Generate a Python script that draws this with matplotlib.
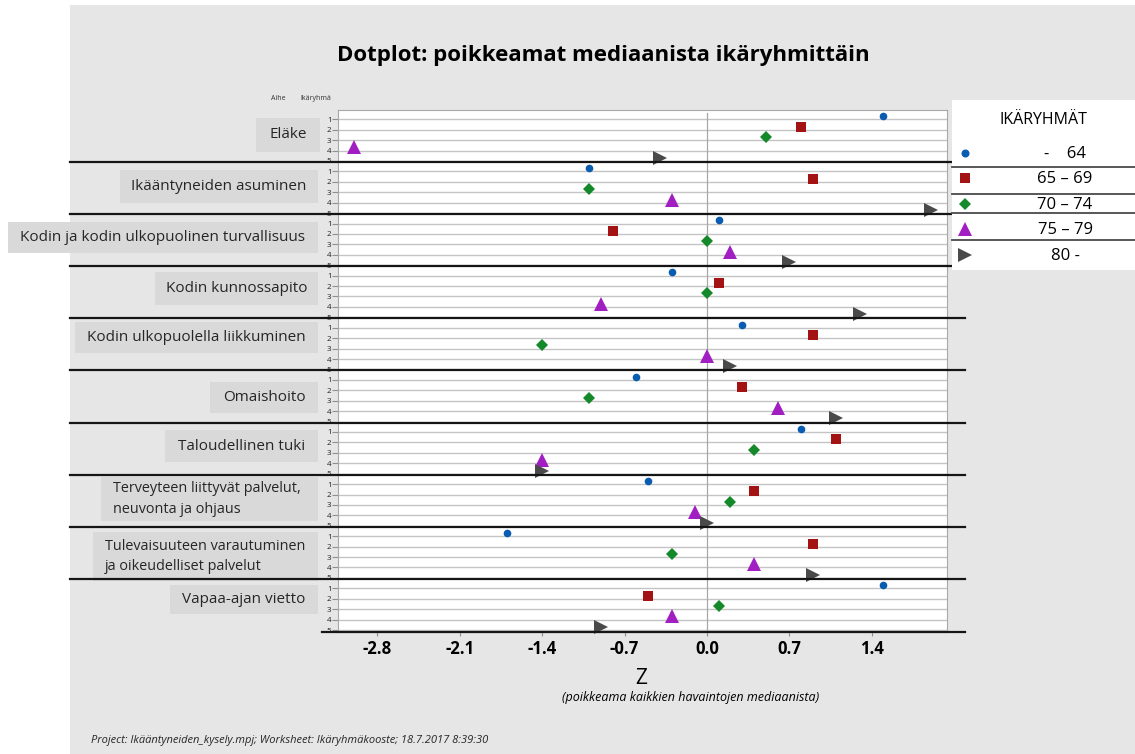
import matplotlib
matplotlib.use("Agg")
import matplotlib.pyplot as plt
import numpy as np
from matplotlib.patches import Rectangle
from matplotlib.lines import Line2D
from matplotlib.transforms import blended_transform_factory

plt.rcParams['font.family'] = ['Open Sans', 'DejaVu Sans']

# aiheet (ylhäältä alas)
aiheet = ["Eläke", "Ikääntyneiden asuminen", "Kodin ja kodin ulkopuolinen turvallisuus",
          "Kodin kunnossapito", "Kodin ulkopuolella liikkuminen", "Omaishoito",
          "Taloudellinen tuki", "Terveyteen liittyvät palvelut,\nneuvonta ja ohjaus",
          "Tulevaisuuteen varautuminen\nja oikeudelliset palvelut", "Vapaa-ajan vietto"]

# ikäryhmät ja poikkeamat (Z) aiheittain
ikaryhmat = ["-    64", "65 – 69", "70 – 74", "75 – 79", "80 -"]
z_64 = [1.5, -1.0, 0.1, -0.3, 0.3, -0.6, 0.8, -0.5, -1.7, 1.5]
z_65_69 = [0.8, 0.9, -0.8, 0.1, 0.9, 0.3, 1.1, 0.4, 0.9, -0.5]
z_70_74 = [0.5, -1.0, 0.0, 0.0, -1.4, -1.0, 0.4, 0.2, -0.3, 0.1]
z_75_79 = [-3.0, -0.3, 0.2, -0.9, 0.0, 0.6, -1.4, -0.1, 0.4, -0.3]
z_80 = [-0.4, 1.9, 0.7, 1.3, 0.2, 1.1, -1.4, 0.0, 0.9, -0.9]
sarjat = [z_64, z_65_69, z_70_74, z_75_79, z_80]

x_ticks = [-2.8, -2.1, -1.4, -0.7, 0.0, 0.7, 1.4]

# tyylit
merkit = ["o", "s", "D", "^", ">"]
varit = ["#0a5cb0", "#a31313", "#13892a", "#a11fc2", "#4a4a4a"]
koot = [5.5, 6.5, 6, 10, 10]

W, H = 1135, 754
def fx(x): return x / W
def fy(y): return 1 - y / H

fig = plt.figure(figsize=(W / 100, H / 100), dpi=100, facecolor="white")

# harmaa tausta
fig.add_artist(Rectangle((fx(70), fy(754)), fx(1135) - fx(70), fy(5) - fy(754),
                         transform=fig.transFigure, facecolor="#e6e6e6", edgecolor="none", zorder=-10))

ax = fig.add_axes([fx(338.4), fy(632), fx(947) - fx(338.4), fy(110) - fy(632)])
ax.set_facecolor("white")

n_rivit = len(aiheet) * 5
rivit = np.arange(n_rivit)
ax.set_xlim(-3.132, 2.04)
ax.set_ylim(n_rivit - 1 + 0.19, -0.89)

for r in rivit:
    ax.axhline(r, color="#c4c4c4", lw=1, zorder=1)
ax.plot([0, 0], [-0.65, n_rivit], color="#a8a8a8", lw=0.9, zorder=1)

for i, arvot in enumerate(sarjat):
    y = [5 * g + i - 0.3 for g in range(len(arvot))]
    ax.plot(arvot, y, ls="none", marker=merkit[i], color=varit[i], ms=koot[i],
            markeredgewidth=0, zorder=3, clip_on=False)

ax.set_xticks(x_ticks)
ax.set_xticklabels([f"{t:.1f}" for t in x_ticks], fontsize=12, fontweight="bold")
ax.tick_params(axis="x", length=3, color="#909090", pad=3)
ax.set_yticks(rivit)
ax.set_yticklabels([str(r % 5 + 1) for r in rivit], fontsize=5.8, color="#222222")
ax.tick_params(axis="y", length=4, color="#909090", pad=1)
for s in ax.spines.values():
    s.set_color("#a8a8a8")

# mustat erotinviivat
tr = blended_transform_factory(fig.transFigure, ax.transData)
for g in range(len(aiheet) - 1):
    fig.add_artist(Line2D([fx(70), fx(965)], [5 * g + 4.1, 5 * g + 4.1], transform=tr,
                          color="#151515", lw=1.6, zorder=3))
fig.add_artist(Line2D([fx(322), fx(965)], [n_rivit - 1 + 0.19] * 2, transform=tr,
                      color="#151515", lw=1.6, zorder=3))

# aihelaatikot
laatikot = [(256, 118, 320, 152), (120, 170, 318, 203), (8, 222, 318, 253),
            (155, 272, 318, 305), (75, 322, 318, 353), (210, 382, 318, 413),
            (165, 430, 318, 462), (101, 477, 318, 521), (93, 532, 318, 581),
            (170, 585, 318, 614)]
for nimi, (x0, y0, x1, y1) in zip(aiheet, laatikot):
    fig.add_artist(Rectangle((fx(x0), fy(y1)), fx(x1) - fx(x0), fy(y0) - fy(y1),
                             transform=fig.transFigure, facecolor="#d9d9d9",
                             edgecolor="none", zorder=1))
    if "\n" in nimi:
        fig.text(fx(x0 + 12), fy((y0 + y1) / 2), nimi, ha="left", va="center",
                 fontsize=10.4, color="#262626", linespacing=1.5, zorder=2)
    else:
        fig.text(fx((x0 + x1) / 2), fy((y0 + y1) / 2), nimi, ha="center", va="center",
                 fontsize=11, color="#262626", zorder=2)

fig.text(fx(278), fy(98), "Aihe", fontsize=5, ha="center", va="center", color="#333333")
fig.text(fx(316), fy(98), "Ikäryhmä", fontsize=5, ha="center", va="center", color="#333333")

# otsikot
fig.text(fx(603), fy(56), "Dotplot: poikkeamat mediaanista ikäryhmittäin",
         fontsize=16, fontweight="bold", ha="center", va="center")
fig.text(fx(641), fy(678), "Z", fontsize=15, ha="center", va="center")
fig.text(fx(691), fy(697), "(poikkeama kaikkien havaintojen mediaanista)",
         fontsize=9, style="italic", ha="center", va="center")
fig.text(fx(91), fy(740),
         "Project: Ikääntyneiden_kysely.mpj; Worksheet: Ikäryhmäkooste; 18.7.2017 8:39:30",
         fontsize=8, style="italic", ha="left", va="center", color="#262626")

# selite
fig.add_artist(Rectangle((fx(952), fy(270)), fx(1135) - fx(952), fy(100) - fy(270),
                         transform=fig.transFigure, facecolor="white", edgecolor="none", zorder=4))
fig.text(fx(1043), fy(120), "IKÄRYHMÄT", fontsize=11.5, ha="center", va="center", zorder=5)
selite_y = [154, 179, 205, 230, 256]
for i, nimi in enumerate(ikaryhmat):
    fig.add_artist(Line2D([fx(965)], [fy(selite_y[i] - 1)], transform=fig.transFigure,
                          marker=merkit[i], color=varit[i], ms=koot[i] * 1.05,
                          markeredgewidth=0, ls="none", zorder=5))
    fig.text(fx(1065), fy(selite_y[i]), nimi, fontsize=12, ha="center", va="center", zorder=5)
for yy in [167, 194, 213, 240]:
    fig.add_artist(Line2D([fx(952), fx(1135)], [fy(yy)] * 2, transform=fig.transFigure,
                          color="#4a4a4a", lw=1.3, zorder=5))

fig.savefig("out.png", dpi=100)
